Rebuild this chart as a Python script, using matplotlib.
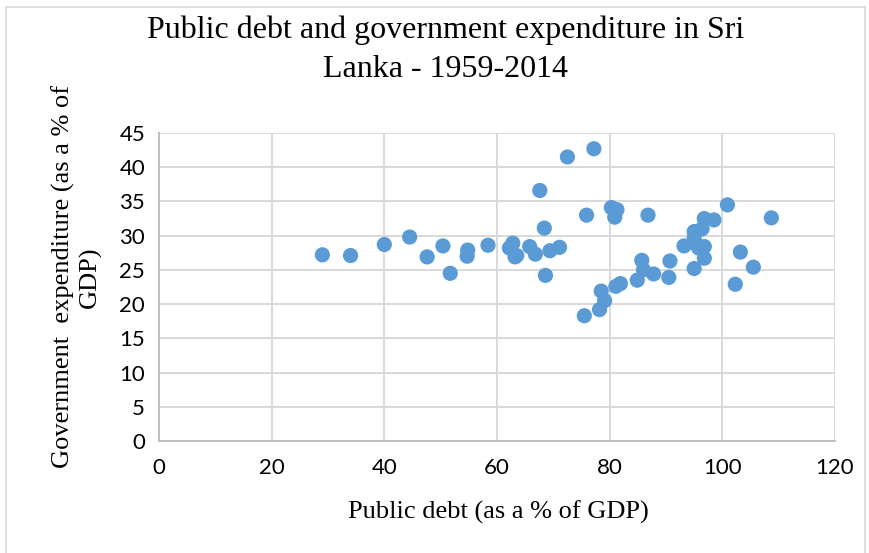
import matplotlib.pyplot as plt
from matplotlib.lines import Line2D

# Public debt (% of GDP) and government expenditure (% of GDP), 1959-2014
debt = [29.0, 34.0, 40.0, 44.5, 47.6, 50.4, 51.7, 54.8, 54.7, 58.4,
        62.8, 62.2, 63.2, 63.5, 65.8, 66.8, 67.6, 68.4, 68.6, 69.4,
        71.1, 72.5, 77.2, 75.9, 75.5, 78.2, 79.1, 78.5, 80.3, 81.3,
        80.9, 81.1, 81.9, 84.9, 85.7, 86.0, 87.8, 86.8, 90.5, 90.7,
        93.2, 95.0, 95.0, 95.0, 95.2, 95.8, 96.4, 96.8, 98.5, 96.8,
        96.8, 100.9, 103.2, 102.3, 105.5, 108.7]
expenditure = [27.2, 27.1, 28.7, 29.8, 26.9, 28.5, 24.5, 27.9, 27.0, 28.6,
               28.9, 28.2, 26.9, 27.1, 28.4, 27.3, 36.6, 31.1, 24.2, 27.8,
               28.3, 41.5, 42.7, 33.0, 18.3, 19.2, 20.5, 21.9, 34.1, 33.8,
               32.7, 22.6, 23.0, 23.5, 26.4, 25.0, 24.4, 33.0, 23.9, 26.3,
               28.5, 30.6, 29.7, 25.2, 28.9, 28.2, 31.0, 32.5, 32.3, 28.4,
               26.7, 34.5, 27.6, 22.9, 25.4, 32.6]

x_ticks = [0, 20, 40, 60, 80, 100, 120]
y_ticks = [0, 5, 10, 15, 20, 25, 30, 35, 40, 45]

serif = 'Liberation Serif'
sans = 'Lato'

fig = plt.figure(figsize=(8.7, 5.53), dpi=100)
ax = fig.add_axes([159 / 870, 1 - 441 / 553, 676 / 870, 308 / 553])

ax.scatter(debt, expenditure, s=120, color='#5B9BD5', edgecolors='none', zorder=3)

ax.set_xlim(0, 120)
ax.set_ylim(0, 45)
ax.set_xticks(x_ticks)
ax.set_yticks(y_ticks)
ax.grid(True, color='#D9D9D9', linewidth=1.4, zorder=0)
ax.tick_params(length=0, labelsize=16, colors='black')
ax.tick_params(axis='x', pad=12)
ax.tick_params(axis='y', pad=10)
for lab in ax.get_xticklabels() + ax.get_yticklabels():
    lab.set_family(sans)

for side in ['top', 'right']:
    ax.spines[side].set_visible(False)
for side in ['left', 'bottom']:
    ax.spines[side].set_color('#BFBFBF')
    ax.spines[side].set_linewidth(1.4)

# titles and axis labels
fig.text(446 / 870, 1 - 50 / 553, 'Public debt and government expenditure in Sri\nLanka - 1959-2014',
         ha='center', va='center', fontsize=23, family=serif, linespacing=1.45)
fig.text(498 / 870, 1 - 512 / 553, 'Public debt (as a % of GDP)',
         ha='center', va='center', fontsize=19, family=serif)
fig.text(77 / 870, 1 - 277 / 553, 'Government  expenditure (as a % of\nGDP)',
         ha='center', va='center', rotation=90, fontsize=19, family=serif,
         multialignment='center', linespacing=1.2)

# light chart-area border
border = dict(color='#D9D9D9', linewidth=1.2, transform=fig.transFigure)
x0, x1, y1 = 6 / 870, 865 / 870, 1 - 7 / 553
fig.add_artist(Line2D([x0, x1], [y1, y1], **border))
fig.add_artist(Line2D([x0, x0], [0, y1], **border))
fig.add_artist(Line2D([x1, x1], [0, y1], **border))

fig.savefig('out.png', dpi=100)
